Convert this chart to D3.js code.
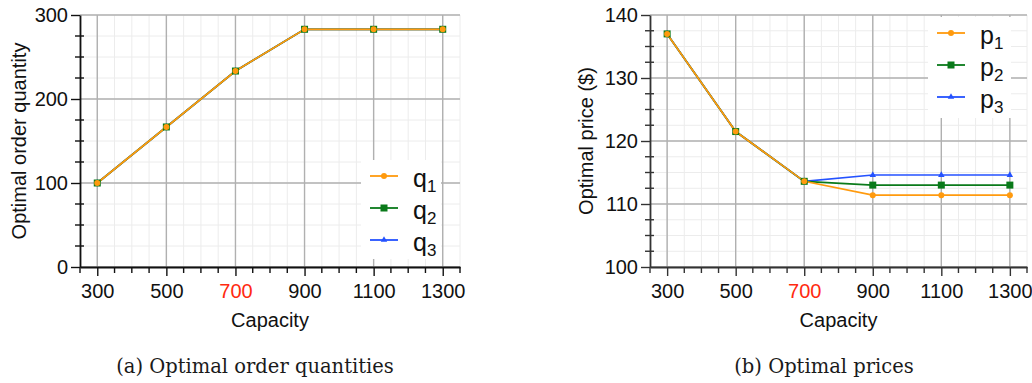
<!DOCTYPE html>
<html>
<head>
<meta charset="utf-8">
<script src="https://cdn.jsdelivr.net/npm/d3@7"></script>
<style>
  html, body { margin: 0; padding: 0; background: #fff; }
  svg { display: block; }
</style>
</head>
<body>
<svg id="chart" width="1032" height="383"></svg>
<script>
// Capacity levels on the x axis
const capacities = [300, 500, 700, 900, 1100, 1300];
const xTickLabels = ["300", "500", "700", "900", "1100", "1300"];
const highlightCapacity = 700;

// Optimal order quantities per product
const q1 = [100, 166.7, 233.3, 283, 283, 283];
const q2 = [100, 166.7, 233.3, 283, 283, 283];
const q3 = [100, 166.7, 233.3, 283, 283, 283];

// Optimal prices per product ($)
const p1 = [137.0, 121.5, 113.6, 111.4, 111.4, 111.4];
const p2 = [137.0, 121.5, 113.6, 113.0, 113.0, 113.0];
const p3 = [137.0, 121.5, 113.6, 114.6, 114.6, 114.6];

const quantityTicks = [0, 100, 200, 300];
const priceTicks = [100, 110, 120, 130, 140];

const colors = { s1: "#ff9a0e", s2: "#0a7a1a", s3: "#2452ff" };

const svg = d3.select("#chart");
const sansFont = "'Liberation Sans', Arial, sans-serif";
const serifFont = "'DejaVu Serif', serif";

function drawPanel(cfg) {
  const g = svg.append("g");
  const x = d3.scaleLinear().domain([250, 1350]).range([cfg.left, cfg.right]);
  const y = d3.scaleLinear().domain(cfg.yDomain).range([cfg.bottom, cfg.top]);

  // minor grid
  const xMinor = d3.range(250, 1351, 50);
  const yMinor = d3.range(cfg.yDomain[0], cfg.yDomain[1] + 1e-9, cfg.yMinorStep);
  g.append("g").selectAll("line").data(xMinor).join("line")
    .attr("x1", d => x(d)).attr("x2", d => x(d))
    .attr("y1", cfg.top).attr("y2", cfg.bottom)
    .attr("stroke", "#ececec").attr("stroke-width", 1);
  g.append("g").selectAll("line").data(yMinor).join("line")
    .attr("x1", cfg.left).attr("x2", cfg.right)
    .attr("y1", d => y(d)).attr("y2", d => y(d))
    .attr("stroke", "#ececec").attr("stroke-width", 1);

  // major grid
  g.append("g").selectAll("line").data(capacities).join("line")
    .attr("x1", d => x(d)).attr("x2", d => x(d))
    .attr("y1", cfg.top).attr("y2", cfg.bottom)
    .attr("stroke", "#b0b0b0").attr("stroke-width", 1.4);
  g.append("g").selectAll("line").data(cfg.yTicks).join("line")
    .attr("x1", cfg.left).attr("x2", cfg.right)
    .attr("y1", d => y(d)).attr("y2", d => y(d))
    .attr("stroke", "#b0b0b0").attr("stroke-width", 1.4);

  // series (drawn last-to-first so series 1 sits on top)
  const line = d3.line().x((d, i) => x(capacities[i])).y(d => y(d));
  const series = cfg.series.slice().reverse();
  series.forEach(s => {
    g.append("path").datum(s.values)
      .attr("fill", "none").attr("stroke", s.color)
      .attr("stroke-width", 1.7).attr("d", line);
  });
  series.forEach(s => {
    drawMarkers(g, s, x, y);
  });

  // axes
  const xAxis = g.append("g").attr("transform", `translate(0,${cfg.bottom})`)
    .call(d3.axisBottom(x).tickValues(capacities).tickFormat((d, i) => xTickLabels[i])
      .tickSize(9).tickPadding(8).tickSizeOuter(0));
  xAxis.select(".domain").attr("stroke", cfg.axisColor).attr("stroke-width", 1.8);
  xAxis.selectAll(".tick line").attr("stroke", cfg.axisColor).attr("stroke-width", 1.4);
  xAxis.selectAll(".tick text")
    .attr("font-family", sansFont).attr("font-size", 20)
    .attr("fill", d => d === highlightCapacity ? "#ff2a10" : "#111");
  g.append("g").selectAll("line").data(xMinor.filter(d => !capacities.includes(d))).join("line")
    .attr("x1", d => x(d)).attr("x2", d => x(d))
    .attr("y1", cfg.bottom).attr("y2", cfg.bottom + 6)
    .attr("stroke", cfg.axisColor).attr("stroke-width", 1.4);

  const yAxis = g.append("g").attr("transform", `translate(${cfg.left},0)`)
    .call(d3.axisLeft(y).tickValues(cfg.yTicks).tickSize(9).tickPadding(3).tickSizeOuter(0));
  yAxis.select(".domain").attr("stroke", cfg.axisColor).attr("stroke-width", 1.8);
  yAxis.selectAll(".tick line").attr("stroke", cfg.axisColor).attr("stroke-width", 1.4);
  yAxis.selectAll(".tick text")
    .attr("font-family", sansFont).attr("font-size", 20).attr("fill", "#111");
  g.append("g").selectAll("line").data(yMinor.filter(d => !cfg.yTicks.includes(d))).join("line")
    .attr("x1", cfg.left - 5).attr("x2", cfg.left + 4)
    .attr("y1", d => y(d)).attr("y2", d => y(d))
    .attr("stroke", cfg.axisColor).attr("stroke-width", 1.4);

  // axis titles
  g.append("text")
    .attr("x", (cfg.left + cfg.right) / 2).attr("y", 327)
    .attr("text-anchor", "middle")
    .attr("font-family", sansFont).attr("font-size", 20).attr("fill", "#111")
    .text("Capacity");
  g.append("text")
    .attr("transform", `translate(${cfg.yTitleX},${(cfg.top + cfg.bottom) / 2}) rotate(-90)`)
    .attr("text-anchor", "middle")
    .attr("font-family", sansFont).attr("font-size", 20).attr("fill", "#111")
    .text(cfg.yTitle);

  // legend
  const lg = g.append("g");
  lg.append("rect")
    .attr("x", cfg.legend.x).attr("y", cfg.legend.y)
    .attr("width", cfg.legend.w).attr("height", cfg.legend.h)
    .attr("fill", "#fff");
  cfg.series.forEach((s, i) => {
    const ly = cfg.legend.y + 16 + i * 32;
    const lx = cfg.legend.x + 9;
    lg.append("line")
      .attr("x1", lx).attr("x2", lx + 28).attr("y1", ly).attr("y2", ly)
      .attr("stroke", s.color).attr("stroke-width", 1.8);
    drawMarker(lg, s.shape, s.color, lx + 14, ly, true);
    const t = lg.append("text")
      .attr("x", lx + 43).attr("y", ly + 11)
      .attr("font-family", sansFont).attr("font-size", 25).attr("fill", "#111");
    t.append("tspan").text(s.letter);
    t.append("tspan").attr("font-size", 17).attr("dy", 5).text(s.sub);
  });

  // caption
  g.append("text")
    .attr("x", cfg.captionX).attr("y", 373)
    .attr("text-anchor", "middle")
    .attr("font-family", serifFont).attr("font-size", 19.5).attr("fill", "#1a1a1a")
    .text(cfg.caption);
}

function drawMarker(g, shape, color, cx, cy) {
  if (shape === "circle") {
    g.append("circle").attr("cx", cx).attr("cy", cy).attr("r", 3)
      .attr("fill", color);
  } else if (shape === "square") {
    const s = 7;
    g.append("rect").attr("x", cx - s / 2).attr("y", cy - s / 2)
      .attr("width", s).attr("height", s).attr("fill", color);
  } else {
    g.append("path")
      .attr("d", d3.symbol().type(d3.symbolTriangle).size(18)())
      .attr("transform", `translate(${cx},${cy})`)
      .attr("fill", color);
  }
}

function drawMarkers(g, s, x, y) {
  s.values.forEach((v, i) => drawMarker(g, s.shape, s.color, x(capacities[i]), y(v)));
}

drawPanel({
  left: 80, right: 460, top: 15, bottom: 267,
  yDomain: [0, 300], yTicks: quantityTicks, yMinorStep: 25,
  axisColor: "#111",
  yTitle: "Optimal order quantity", yTitleX: 26,
  legend: { x: 361, y: 160, w: 80, h: 99 },
  caption: "(a) Optimal order quantities", captionX: 255,
  series: [
    { values: q1, color: colors.s1, shape: "circle", letter: "q", sub: "1" },
    { values: q2, color: colors.s2, shape: "square", letter: "q", sub: "2" },
    { values: q3, color: colors.s3, shape: "triangle", letter: "q", sub: "3" }
  ]
});

drawPanel({
  left: 650, right: 1027, top: 15, bottom: 267,
  yDomain: [100, 140], yTicks: priceTicks, yMinorStep: 2.5,
  axisColor: "#333",
  yTitle: "Optimal price ($)", yTitleX: 593,
  legend: { x: 928, y: 17, w: 83, h: 101 },
  caption: "(b) Optimal prices", captionX: 824,
  series: [
    { values: p1, color: colors.s1, shape: "circle", letter: "p", sub: "1" },
    { values: p2, color: colors.s2, shape: "square", letter: "p", sub: "2" },
    { values: p3, color: colors.s3, shape: "triangle", letter: "p", sub: "3" }
  ]
});
</script>
</body>
</html>
